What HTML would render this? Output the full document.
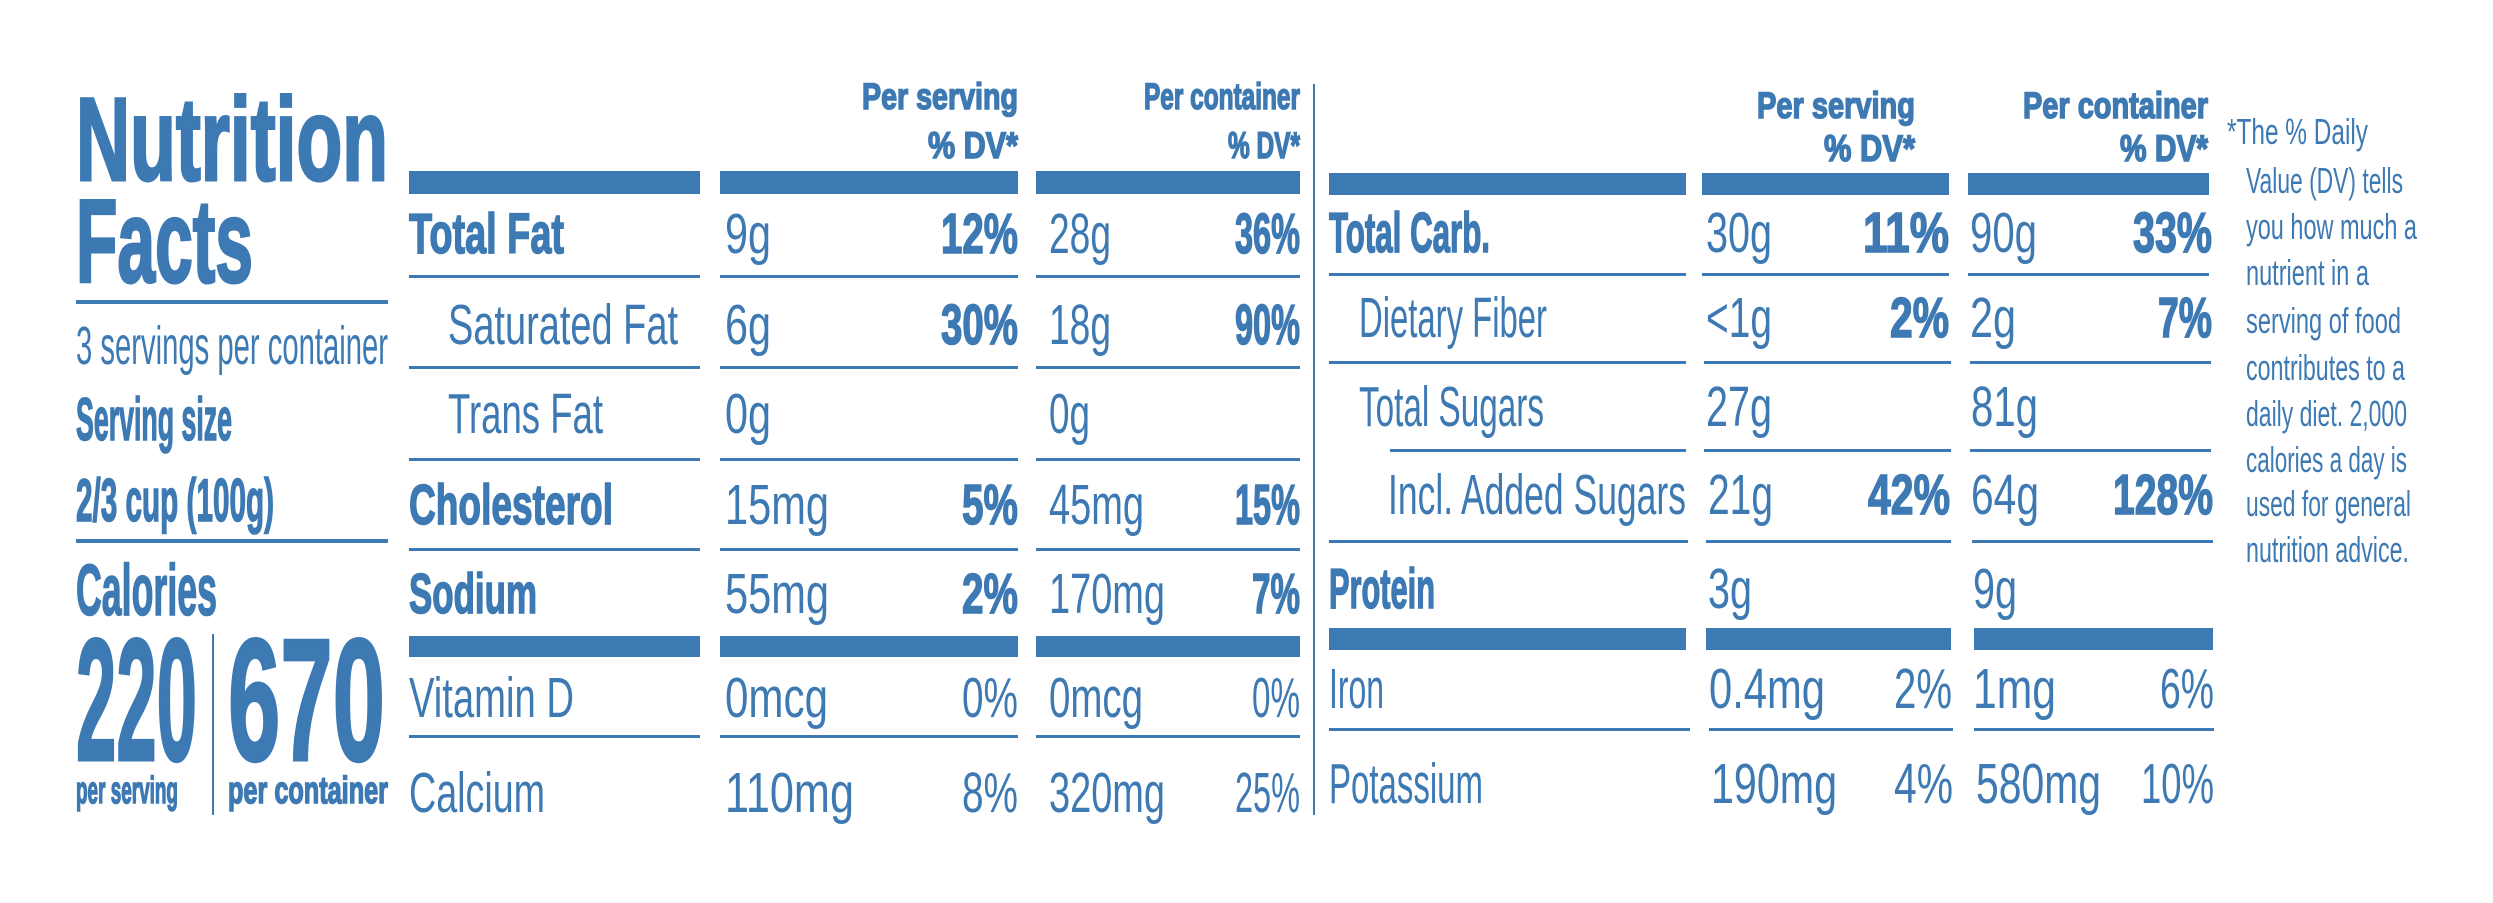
<!DOCTYPE html>
<html><head><meta charset="utf-8"><style>
html,body{margin:0;padding:0;background:#fff;}
svg{display:block;}
text{font-family:"Liberation Sans",sans-serif;fill:#3d79b3;}
.b{font-weight:bold;stroke:#3d79b3;stroke-width:1.6;}
</style></head><body>
<svg width="2493" height="903" viewBox="0 0 2493 903" xmlns="http://www.w3.org/2000/svg">
<g fill="#3d79b3">
<rect x="76" y="300" width="312" height="4"/>
<rect x="76" y="539" width="312" height="4"/>
<rect x="212" y="634" width="2" height="181"/>
<rect x="409" y="171" width="291" height="23"/><rect x="720" y="171" width="298" height="23"/><rect x="1036" y="171" width="264" height="23"/>
<rect x="409" y="636" width="291" height="21"/><rect x="720" y="636" width="298" height="21"/><rect x="1036" y="636" width="264" height="21"/>
<g>
<rect x="409" y="275" width="291" height="3"/><rect x="720" y="275" width="298" height="3"/><rect x="1036" y="275" width="264" height="3"/>
<rect x="409" y="366" width="291" height="3"/><rect x="720" y="366" width="298" height="3"/><rect x="1036" y="366" width="264" height="3"/>
<rect x="409" y="458" width="291" height="3"/><rect x="720" y="458" width="298" height="3"/><rect x="1036" y="458" width="264" height="3"/>
<rect x="409" y="548" width="291" height="3"/><rect x="720" y="548" width="298" height="3"/><rect x="1036" y="548" width="264" height="3"/>
<rect x="409" y="735" width="291" height="3"/><rect x="720" y="735" width="298" height="3"/><rect x="1036" y="735" width="264" height="3"/>
</g>
<rect x="1313" y="84" width="2" height="731"/>
<rect x="1329" y="173" width="357" height="22"/><rect x="1702" y="173" width="247" height="22"/><rect x="1968" y="173" width="241" height="22"/>
<rect x="1329" y="628" width="357" height="22"/><rect x="1706" y="628" width="245" height="22"/><rect x="1974" y="628" width="239" height="22"/>
<rect x="1329" y="273" width="357" height="3"/><rect x="1702" y="273" width="247" height="3"/><rect x="1968" y="273" width="241" height="3"/>
<rect x="1329" y="361" width="357" height="3"/><rect x="1704" y="361" width="247" height="3"/><rect x="1970" y="361" width="241" height="3"/>
<rect x="1390" y="449" width="296" height="3"/><rect x="1704" y="449" width="247" height="3"/><rect x="1970" y="449" width="241" height="3"/>
<rect x="1329" y="540" width="359" height="3"/><rect x="1706" y="540" width="245" height="3"/><rect x="1972" y="540" width="241" height="3"/>
<rect x="1329" y="728" width="361" height="3"/><rect x="1709" y="728" width="244" height="3"/><rect x="1974" y="728" width="240" height="3"/>
</g>

<text class="b" x="76" y="180" font-size="118" textLength="312" lengthAdjust="spacingAndGlyphs" style="stroke-width:3">Nutrition</text>
<text class="b" x="76" y="282" font-size="118" textLength="177" lengthAdjust="spacingAndGlyphs" style="stroke-width:3">Facts</text>
<text x="76" y="364" font-size="54" textLength="312" lengthAdjust="spacingAndGlyphs">3 servings per container</text>
<text class="b" x="76" y="440" font-size="60" textLength="156" lengthAdjust="spacingAndGlyphs">Serving size</text>
<text class="b" x="76" y="521" font-size="60" textLength="198" lengthAdjust="spacingAndGlyphs">2/3 cup (100g)</text>
<text class="b" x="76" y="615" font-size="72" textLength="141" lengthAdjust="spacingAndGlyphs">Calories</text>
<text class="b" x="76" y="760" font-size="174" textLength="121" lengthAdjust="spacingAndGlyphs" style="stroke-width:3">220</text>
<text class="b" x="228" y="760" font-size="174" textLength="157" lengthAdjust="spacingAndGlyphs" style="stroke-width:3">670</text>
<text class="b" x="76" y="803" font-size="38" textLength="102" lengthAdjust="spacingAndGlyphs">per serving</text>
<text class="b" x="228" y="803" font-size="38" textLength="160" lengthAdjust="spacingAndGlyphs">per container</text>

<text class="b" x="1018" y="109" font-size="37" text-anchor="end" textLength="156" lengthAdjust="spacingAndGlyphs">Per serving</text>
<text class="b" x="1018" y="158" font-size="37" text-anchor="end" textLength="90" lengthAdjust="spacingAndGlyphs">% DV*</text>
<text class="b" x="1300" y="109" font-size="37" text-anchor="end" textLength="156" lengthAdjust="spacingAndGlyphs">Per container</text>
<text class="b" x="1300" y="158" font-size="37" text-anchor="end" textLength="72" lengthAdjust="spacingAndGlyphs">% DV*</text>

<g font-size="57">
<text class="b" x="409" y="253" textLength="155" lengthAdjust="spacingAndGlyphs">Total Fat</text>
<text x="725" y="253" textLength="46" lengthAdjust="spacingAndGlyphs">9g</text>
<text class="b" x="1018" y="253" text-anchor="end" textLength="77" lengthAdjust="spacingAndGlyphs">12%</text>
<text x="1049" y="253" textLength="62" lengthAdjust="spacingAndGlyphs">28g</text>
<text class="b" x="1300" y="253" text-anchor="end" textLength="65" lengthAdjust="spacingAndGlyphs">36%</text>

<text x="448" y="344" textLength="230" lengthAdjust="spacingAndGlyphs">Saturated Fat</text>
<text x="725" y="344" textLength="46" lengthAdjust="spacingAndGlyphs">6g</text>
<text class="b" x="1018" y="344" text-anchor="end" textLength="77" lengthAdjust="spacingAndGlyphs">30%</text>
<text x="1049" y="344" textLength="62" lengthAdjust="spacingAndGlyphs">18g</text>
<text class="b" x="1300" y="344" text-anchor="end" textLength="65" lengthAdjust="spacingAndGlyphs">90%</text>

<text x="448" y="433" textLength="155" lengthAdjust="spacingAndGlyphs">Trans Fat</text>
<text x="725" y="433" textLength="46" lengthAdjust="spacingAndGlyphs">0g</text>
<text x="1049" y="433" textLength="41" lengthAdjust="spacingAndGlyphs">0g</text>

<text class="b" x="409" y="524" textLength="204" lengthAdjust="spacingAndGlyphs">Cholesterol</text>
<text x="725" y="524" textLength="104" lengthAdjust="spacingAndGlyphs">15mg</text>
<text class="b" x="1018" y="524" text-anchor="end" textLength="56" lengthAdjust="spacingAndGlyphs">5%</text>
<text x="1049" y="524" textLength="95" lengthAdjust="spacingAndGlyphs">45mg</text>
<text class="b" x="1300" y="524" text-anchor="end" textLength="65" lengthAdjust="spacingAndGlyphs">15%</text>

<text class="b" x="409" y="613" textLength="128" lengthAdjust="spacingAndGlyphs">Sodium</text>
<text x="725" y="613" textLength="104" lengthAdjust="spacingAndGlyphs">55mg</text>
<text class="b" x="1018" y="613" text-anchor="end" textLength="56" lengthAdjust="spacingAndGlyphs">2%</text>
<text x="1049" y="613" textLength="116" lengthAdjust="spacingAndGlyphs">170mg</text>
<text class="b" x="1300" y="613" text-anchor="end" textLength="48" lengthAdjust="spacingAndGlyphs">7%</text>

<text x="409" y="717" textLength="165" lengthAdjust="spacingAndGlyphs">Vitamin D</text>
<text x="725" y="717" textLength="103" lengthAdjust="spacingAndGlyphs">0mcg</text>
<text x="1018" y="717" text-anchor="end" textLength="56" lengthAdjust="spacingAndGlyphs">0%</text>
<text x="1049" y="717" textLength="94" lengthAdjust="spacingAndGlyphs">0mcg</text>
<text x="1300" y="717" text-anchor="end" textLength="48" lengthAdjust="spacingAndGlyphs">0%</text>

<text x="409" y="812" textLength="136" lengthAdjust="spacingAndGlyphs">Calcium</text>
<text x="725" y="812" textLength="129" lengthAdjust="spacingAndGlyphs">110mg</text>
<text x="1018" y="812" text-anchor="end" textLength="56" lengthAdjust="spacingAndGlyphs">8%</text>
<text x="1049" y="812" textLength="116" lengthAdjust="spacingAndGlyphs">320mg</text>
<text x="1300" y="812" text-anchor="end" textLength="65" lengthAdjust="spacingAndGlyphs">25%</text>
</g>

<text class="b" x="1915" y="118" font-size="37" text-anchor="end" textLength="158" lengthAdjust="spacingAndGlyphs">Per serving</text>
<text class="b" x="1915" y="161" font-size="37" text-anchor="end" textLength="91" lengthAdjust="spacingAndGlyphs">% DV*</text>
<text class="b" x="2208" y="118" font-size="37" text-anchor="end" textLength="185" lengthAdjust="spacingAndGlyphs">Per container</text>
<text class="b" x="2208" y="161" font-size="37" text-anchor="end" textLength="88" lengthAdjust="spacingAndGlyphs">% DV*</text>

<g font-size="57">
<text class="b" x="1329" y="252" textLength="161" lengthAdjust="spacingAndGlyphs">Total Carb.</text>
<text x="1706" y="252" textLength="66" lengthAdjust="spacingAndGlyphs">30g</text>
<text class="b" x="1949" y="252" text-anchor="end" textLength="86" lengthAdjust="spacingAndGlyphs">11%</text>
<text x="1970" y="252" textLength="67" lengthAdjust="spacingAndGlyphs">90g</text>
<text class="b" x="2212" y="252" text-anchor="end" textLength="79" lengthAdjust="spacingAndGlyphs">33%</text>

<text x="1359" y="337" textLength="188" lengthAdjust="spacingAndGlyphs">Dietary Fiber</text>
<text x="1706" y="337" textLength="66" lengthAdjust="spacingAndGlyphs">&lt;1g</text>
<text class="b" x="1949" y="337" text-anchor="end" textLength="59" lengthAdjust="spacingAndGlyphs">2%</text>
<text x="1970" y="337" textLength="46" lengthAdjust="spacingAndGlyphs">2g</text>
<text class="b" x="2212" y="337" text-anchor="end" textLength="54" lengthAdjust="spacingAndGlyphs">7%</text>

<text x="1359" y="426" textLength="185" lengthAdjust="spacingAndGlyphs">Total Sugars</text>
<text x="1706" y="426" textLength="66" lengthAdjust="spacingAndGlyphs">27g</text>
<text x="1971" y="426" textLength="67" lengthAdjust="spacingAndGlyphs">81g</text>

<text x="1388" y="514" textLength="298" lengthAdjust="spacingAndGlyphs">Incl. Added Sugars</text>
<text x="1708" y="514" textLength="65" lengthAdjust="spacingAndGlyphs">21g</text>
<text class="b" x="1950" y="514" text-anchor="end" textLength="82" lengthAdjust="spacingAndGlyphs">42%</text>
<text x="1971" y="514" textLength="68" lengthAdjust="spacingAndGlyphs">64g</text>
<text class="b" x="2213" y="514" text-anchor="end" textLength="100" lengthAdjust="spacingAndGlyphs">128%</text>

<text class="b" x="1329" y="608" textLength="106" lengthAdjust="spacingAndGlyphs">Protein</text>
<text x="1708" y="608" textLength="44" lengthAdjust="spacingAndGlyphs">3g</text>
<text x="1973" y="608" textLength="44" lengthAdjust="spacingAndGlyphs">9g</text>

<text x="1329" y="708" textLength="55" lengthAdjust="spacingAndGlyphs">Iron</text>
<text x="1709" y="708" textLength="116" lengthAdjust="spacingAndGlyphs">0.4mg</text>
<text x="1952" y="708" text-anchor="end" textLength="58" lengthAdjust="spacingAndGlyphs">2%</text>
<text x="1973" y="708" textLength="83" lengthAdjust="spacingAndGlyphs">1mg</text>
<text x="2214" y="708" text-anchor="end" textLength="54" lengthAdjust="spacingAndGlyphs">6%</text>

<text x="1329" y="803" textLength="154" lengthAdjust="spacingAndGlyphs">Potassium</text>
<text x="1711" y="803" textLength="126" lengthAdjust="spacingAndGlyphs">190mg</text>
<text x="1953" y="803" text-anchor="end" textLength="59" lengthAdjust="spacingAndGlyphs">4%</text>
<text x="1976" y="803" textLength="125" lengthAdjust="spacingAndGlyphs">580mg</text>
<text x="2214" y="803" text-anchor="end" textLength="73" lengthAdjust="spacingAndGlyphs">10%</text>
</g>

<g font-size="36">
<text x="2227" y="144" textLength="141" lengthAdjust="spacingAndGlyphs">*The % Daily</text>
<text x="2246" y="193" textLength="157" lengthAdjust="spacingAndGlyphs">Value (DV) tells</text>
<text x="2246" y="239" textLength="171" lengthAdjust="spacingAndGlyphs">you how much a</text>
<text x="2246" y="285" textLength="123" lengthAdjust="spacingAndGlyphs">nutrient in a</text>
<text x="2246" y="333" textLength="155" lengthAdjust="spacingAndGlyphs">serving of food</text>
<text x="2246" y="380" textLength="159" lengthAdjust="spacingAndGlyphs">contributes to a</text>
<text x="2246" y="426" textLength="161" lengthAdjust="spacingAndGlyphs">daily diet. 2,000</text>
<text x="2246" y="472" textLength="161" lengthAdjust="spacingAndGlyphs">calories a day is</text>
<text x="2246" y="516" textLength="165" lengthAdjust="spacingAndGlyphs">used for general</text>
<text x="2246" y="562" textLength="163" lengthAdjust="spacingAndGlyphs">nutrition advice.</text>
</g>
</svg>
</body></html>
